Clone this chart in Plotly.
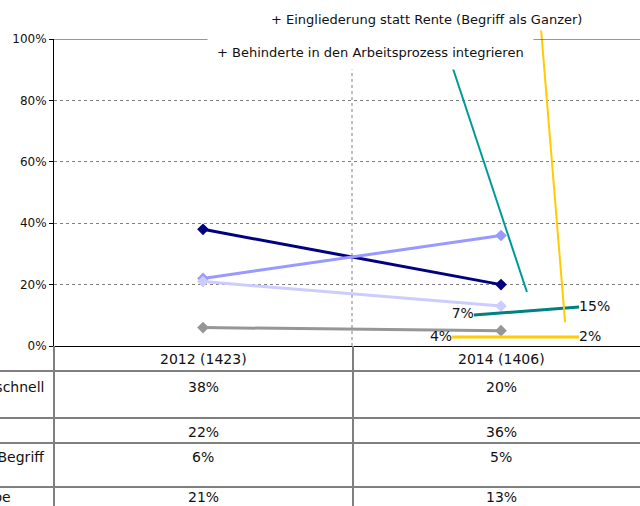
import plotly.graph_objects as go

# survey years (sample size) and the four tabled series
years = ["2012 (1423)", "2014 (1406)"]
series_names = ["Behinderte möglichst schnell", "Integration", "Rehabilitation (Begriff", "Randgruppe"]
series_2012 = [38, 22, 6, 21]
series_2014 = [20, 36, 5, 13]
series_colors = ["#000080", "#9999FF", "#969696", "#CCCCFF"]

# the two callout series (only labels are shown)
teal_labels = ["7%", "15%"]
teal_x = [0.909, 1.262]
teal_y = [10.1, 12.7]
yellow_labels = ["4%", "2%"]
yellow_x = [0.836, 1.262]
yellow_y = [2.9, 2.9]

# leader lines from the callout texts
teal_leader_x = [0.836, 1.087]
teal_leader_y = [91.2, 17.6]
yellow_leader_x = [1.134, 1.215]
yellow_leader_y = [103.6, 7.8]

FONT = "DejaVu Sans"
W, H = 640, 506

fig = go.Figure()

for name, a, b, c in zip(series_names, series_2012, series_2014, series_colors):
    fig.add_trace(go.Scatter(
        x=[0, 1], y=[a, b], mode="lines+markers", name=name,
        line=dict(color=c, width=3),
        marker=dict(symbol="diamond", size=9, color=c),
    ))

fig.add_trace(go.Scatter(
    x=teal_x, y=teal_y, mode="lines+text", text=teal_labels,
    textposition=["middle left", "middle right"],
    textfont=dict(family=FONT, size=14, color="#111111"),
    line=dict(color="#008080", width=3), cliponaxis=False,
))
fig.add_trace(go.Scatter(
    x=yellow_x, y=yellow_y, mode="lines+text", text=yellow_labels,
    textposition=["middle left", "middle right"],
    textfont=dict(family=FONT, size=14, color="#111111"),
    line=dict(color="#FFCC00", width=3), cliponaxis=False,
))

# leaders drawn on a full-figure helper axis with the same units
fig.add_trace(go.Scatter(
    x=teal_leader_x, y=teal_leader_y, mode="lines", xaxis="x2", yaxis="y2",
    line=dict(color="#009999", width=2),
))
fig.add_trace(go.Scatter(
    x=yellow_leader_x, y=yellow_leader_y, mode="lines", xaxis="x2", yaxis="y2",
    line=dict(color="#FFCC00", width=2),
))

px_per_x = 298.0
x0_px = 203.0
px_per_y = 3.07
y0_px = 346.0

fig.update_layout(
    template="none",
    width=W, height=H, autosize=False,
    margin=dict(l=0, r=0, t=0, b=0, pad=0),
    paper_bgcolor="white", plot_bgcolor="rgba(0,0,0,0)",
    showlegend=False,
    font=dict(family=FONT, size=12, color="#111111"),
    xaxis=dict(
        domain=[54 / W, 1], range=[-0.5, (W - x0_px) / px_per_x],
        showgrid=False, zeroline=False, showticklabels=False, ticks="",
        showline=True, linecolor="black", linewidth=1, automargin=False,
    ),
    yaxis=dict(
        domain=[(H - y0_px) / H, (H - 39) / H], range=[0, 100],
        tickvals=[0, 20, 40, 60, 80, 100],
        ticktext=["0%", "20%", "40%", "60%", "80%", "100%"],
        ticks="outside", ticklen=4, tickcolor="black",
        showline=True, linecolor="black", linewidth=1,
        showgrid=True, gridcolor="#808080", griddash="dot", gridwidth=1,
        zeroline=False, tickfont=dict(size=12), automargin=False,
    ),
    xaxis2=dict(
        domain=[0, 1], anchor="y2", visible=False, automargin=False,
        range=[-x0_px / px_per_x, (W - x0_px) / px_per_x],
    ),
    yaxis2=dict(
        domain=[0, 1], anchor="x2", visible=False, automargin=False,
        range=[(y0_px - H) / px_per_y, y0_px / px_per_y],
    ),
)

shapes = []
# top border of the plot area
shapes.append(dict(type="line", xref="paper", yref="y", x0=54 / W, x1=1, y0=100, y1=100,
                   line=dict(color="#303030", width=1)))
# category separator
shapes.append(dict(type="line", xref="x", yref="y", x0=0.5, x1=0.5, y0=0, y1=100,
                   line=dict(color="#808080", width=1, dash="dot")))
# data table grid
for py in [371, 418, 443, 487]:
    shapes.append(dict(type="line", xref="paper", yref="paper", x0=0, x1=1,
                       y0=1 - py / H, y1=1 - py / H, line=dict(color="black", width=1)))
for px in [54, 353]:
    shapes.append(dict(type="line", xref="paper", yref="paper", x0=px / W, x1=px / W,
                       y0=0, y1=1 - y0_px / H, line=dict(color="#808080", width=2)))
fig.update_layout(shapes=shapes)

ann = []
row_py = [387, 432, 457, 497]
for i, yr in enumerate(years):
    ann.append(dict(xref="x", yref="paper", x=i, y=1 - 359 / H, text=yr, showarrow=False,
                    yanchor="middle", font=dict(size=14)))
    vals = series_2012 if i == 0 else series_2014
    for v, py in zip(vals, row_py):
        ann.append(dict(xref="x", yref="paper", x=i, y=1 - py / H, text=f"{v}%",
                        yanchor="middle", showarrow=False, font=dict(size=14)))
label_right = [46, 46, 46, 13]
for name, py, pr in zip(series_names, row_py, label_right):
    if name == "Integration":
        continue
    ann.append(dict(xref="paper", yref="paper", x=pr / W, y=1 - py / H, text=name,
                    xanchor="right", yanchor="middle", showarrow=False, font=dict(size=14)))

# callout texts
ann.append(dict(xref="x2", yref="y2", x=(370 - x0_px) / px_per_x, y=(y0_px - 52) / px_per_y,
                text="+ Behinderte in den Arbeitsprozess integrieren", showarrow=False,
                bgcolor="white", borderpad=9, font=dict(size=13)))
ann.append(dict(xref="x2", yref="y2", x=(426 - x0_px) / px_per_x, y=(y0_px - 19) / px_per_y,
                text="+ Eingliederung statt Rente (Begriff als Ganzer)", showarrow=False,
                bgcolor="white", borderpad=3, font=dict(size=13)))
fig.update_layout(annotations=ann)

fig.write_html("out.html", config={"displayModeBar": False},
               post_script="document.body.style.margin='0';document.body.style.overflow='hidden';")
